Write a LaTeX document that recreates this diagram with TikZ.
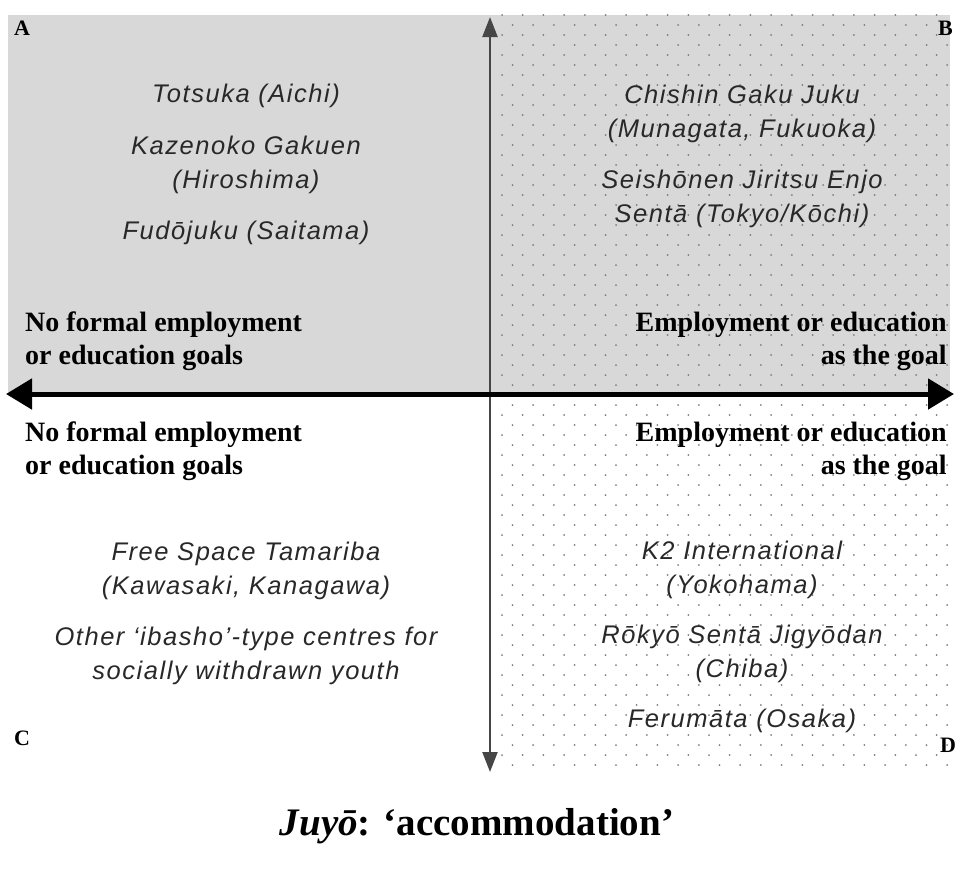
\documentclass[tikz,border=0pt]{standalone}
\usepackage{fontspec}
\setmainfont{Liberation Serif}
\newfontfamily\itemfont[LetterSpace=6]{Liberation Sans}
\usetikzlibrary{arrows.meta}

\definecolor{quadgray}{RGB}{216,216,216}
\definecolor{dotgray}{RGB}{125,125,125}
\definecolor{inkgray}{RGB}{40,40,40}
\definecolor{axisgray}{RGB}{70,70,70}

\tikzset{
  x=1pt, y=-1pt,
  entry/.style={align=center, text=inkgray, inner sep=0pt,
    font=\itemfont\itshape\fontsize{25.5}{34}\selectfont},
  goal/.style={inner sep=0pt, text=black,
    font=\bfseries\fontsize{28}{33}\selectfont},
  corner/.style={inner sep=0pt, text=black,
    font=\bfseries\fontsize{22}{24}\selectfont},
  vaxis/.style={draw=axisgray, line width=2.2pt,
    {Triangle[length=20pt,width=15pt]}-{Triangle[length=20pt,width=15pt]}},
  haxis/.style={draw=black, line width=5pt,
    {Triangle[length=26pt,width=30pt]}-{Triangle[length=26pt,width=30pt]}},
}

\begin{document}
\begin{tikzpicture}
\useasboundingbox (0,0) rectangle (956,871);

% shaded upper half
\fill[quadgray] (8,15) rectangle (950,393);

% dot screen over the right-hand quadrants
\foreach \r in {1,...,76}{
  \pgfmathsetmacro\yy{5+10*\r}
  \pgfmathsetmacro\off{mod(\r+1,2)*10.5}
  \foreach \c in {0,...,21}{
    \fill[dotgray] ({502+\off+20.7*\c},\yy) circle (1.0);
  }
}

% axes
\coordinate (vtop) at (490,17);
\coordinate (vbot) at (490,772);
\coordinate (hleft) at (6,394);
\coordinate (hright) at (954,394);
\draw[vaxis] (vtop) -- (vbot);
\draw[haxis] (hleft) -- (hright);

% corner letters
\node[corner, anchor=north west] (lA) at (14,21) {A};
\node[corner, anchor=north west] (lB) at (938,21) {B};
\node[corner, anchor=north west] (lC) at (14,731) {C};
\node[corner, anchor=north west] (lD) at (940,738) {D};

% axis end descriptions
\node[goal, anchor=west, align=left] (gtl) at (25,341)
  {No formal employment\\or education goals};
\node[goal, anchor=east, align=right] (gtr) at (947,341)
  {Employment or education\\as the goal};
\node[goal, anchor=west, align=left] (gbl) at (25,451)
  {No formal employment\\or education goals};
\node[goal, anchor=east, align=right] (gbr) at (947,451)
  {Employment or education\\as the goal};

% quadrant A
\node[entry] (a1) at (246,96) {Totsuka (Aichi)};
\node[entry] (a2) at (246,165) {Kazenoko Gakuen\\(Hiroshima)};
\node[entry] (a3) at (246,233) {Fudōjuku (Saitama)};

% quadrant B
\node[entry] (b1) at (742,114) {Chishin Gaku Juku\\(Munagata, Fukuoka)};
\node[entry] (b2) at (742,199) {Seishōnen Jiritsu Enjo\\Sentā (Tokyo/Kōchi)};

% quadrant C
\node[entry] (c1) at (246,571) {Free Space Tamariba\\(Kawasaki, Kanagawa)};
\node[entry] (c2) at (246,656) {Other ‘ibasho’-type centres for\\socially withdrawn youth};

% quadrant D
\node[entry] (d1) at (742,570) {K2 International\\(Yokohama)};
\node[entry] (d2) at (742,654) {Rōkyō Sentā Jigyōdan\\(Chiba)};
\node[entry] (d3) at (742,721) {Ferumāta (Osaka)};

% caption
\node[inner sep=0pt, font=\bfseries\fontsize{39}{42}\selectfont] (cap) at (477,826)
  {\textit{Juyō}: ‘accommodation’};
\end{tikzpicture}
\end{document}
